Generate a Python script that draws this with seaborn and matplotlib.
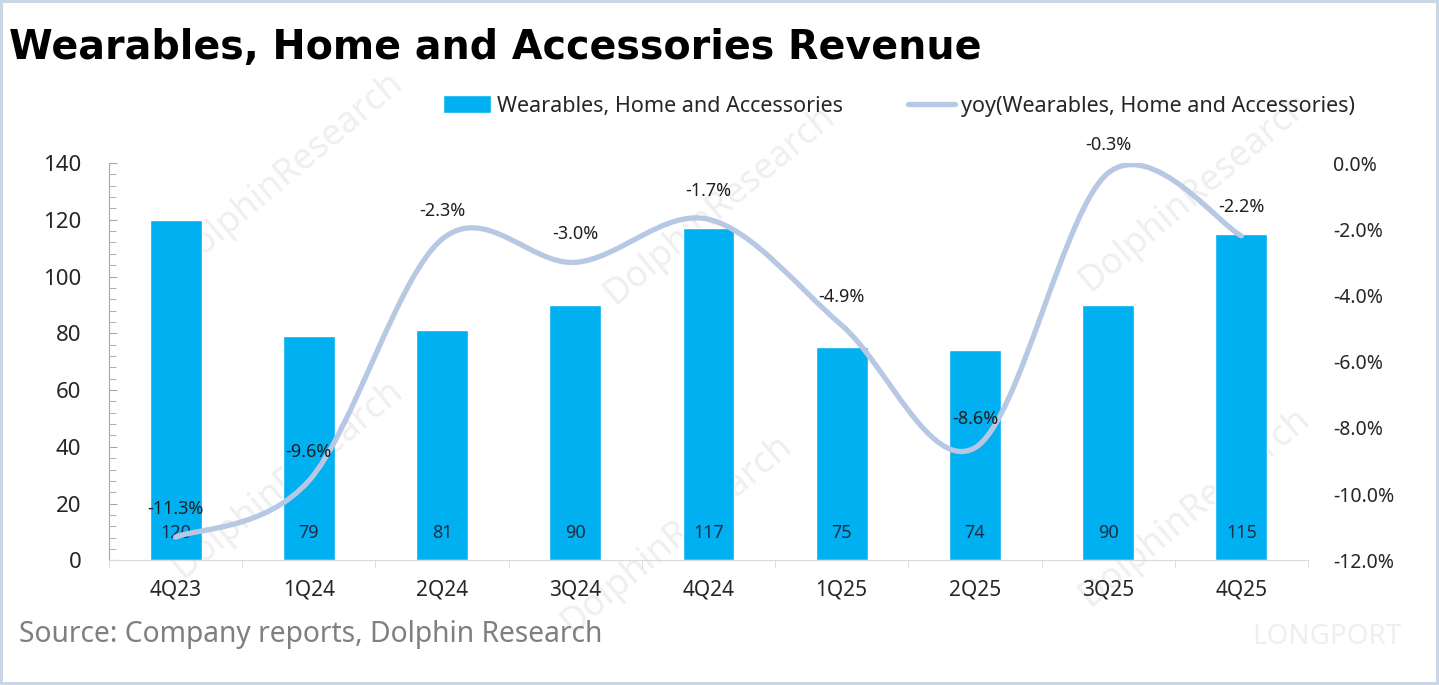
import numpy as np
import pandas as pd
import matplotlib.pyplot as plt
from matplotlib.path import Path
from matplotlib.patches import PathPatch, Patch
from matplotlib.lines import Line2D
from matplotlib.ticker import FuncFormatter, MultipleLocator
import seaborn as sns

# ── data ─────────────────────────────────────────────
quarters = ["4Q23", "1Q24", "2Q24", "3Q24", "4Q24", "1Q25", "2Q25", "3Q25", "4Q25"]
revenue = [120, 79, 81, 90, 117, 75, 74, 90, 115]
yoy_pct = [-11.3, -9.6, -2.3, -3.0, -1.7, -4.9, -8.6, -0.3, -2.2]

bar_color = "#00B0F0"
line_color = "#B7C8E4"
df = pd.DataFrame({"Quarter": quarters, "Revenue": revenue, "YoY": yoy_pct})

sns.set_style("white")
plt.rcParams["font.family"] = ["Noto Sans", "DejaVu Sans"]

fig = plt.figure(figsize=(14.39, 6.85), dpi=100)
fig.patch.set_edgecolor("#C9D6E3")
fig.patch.set_linewidth(3)
ax = fig.add_axes([0.0757, 0.182, 0.8333, 0.580])
ax.patch.set_alpha(0)

sns.barplot(data=df, x="Quarter", y="Revenue", color=bar_color, width=0.39,
            saturation=1, ax=ax, zorder=2)
ax.set_xlim(-0.5, len(quarters) - 0.5)
ax.set_ylim(0, 140)
ax.yaxis.set_major_locator(MultipleLocator(20))
ax.yaxis.set_minor_locator(MultipleLocator(4))
ax.set_xlabel("")
ax.set_ylabel("")
for s in ["top", "right"]:
    ax.spines[s].set_visible(False)
ax.spines["left"].set_color("#A6A6A6")
ax.spines["bottom"].set_color("#D9D9D9")
ax.tick_params(axis="y", which="both", left=True, direction="in", color="#A6A6A6",
               labelsize=16, labelcolor="#262626", pad=20)
ax.tick_params(axis="y", which="major", length=6)
ax.tick_params(axis="y", which="minor", length=5)
ax.tick_params(axis="x", length=0, labelsize=15, labelcolor="#262626", pad=14)
# category separator ticks like excel
ax.set_xticks(np.arange(len(quarters) + 1) - 0.5, minor=True)
ax.tick_params(axis="x", which="minor", bottom=True, length=6, color="#D9D9D9")

for i, v in enumerate(revenue):
    ax.text(i, 9.5, f"{v}", ha="center", va="center", fontsize=13, color="#1F2D45", zorder=5)

# ── yoy line on twin axis (smoothed bezier through points) ──
ax2 = ax.twinx()
ax2.patch.set_alpha(0)
ax2.set_ylim(-12, 0)
ax2.yaxis.set_major_locator(MultipleLocator(2))
ax2.yaxis.set_major_formatter(FuncFormatter(lambda v, p: f"{v:.1f}%"))
for s in ax2.spines.values():
    s.set_visible(False)
ax2.tick_params(axis="y", length=0, labelsize=14, labelcolor="#262626", pad=18)

xs = np.arange(len(quarters), dtype=float)
ys = np.array(yoy_pct)
verts = [(xs[0], ys[0])]
codes = [Path.MOVETO]
t = 1 / 6
for i in range(len(xs) - 1):
    x0, y0 = (xs[i - 1], ys[i - 1]) if i > 0 else (xs[i], ys[i])
    x3, y3 = (xs[i + 2], ys[i + 2]) if i + 2 < len(xs) else (xs[i + 1], ys[i + 1])
    c1 = (xs[i] + (xs[i + 1] - x0) * t, ys[i] + (ys[i + 1] - y0) * t)
    c2 = (xs[i + 1] - (x3 - xs[i]) * t, ys[i + 1] - (y3 - ys[i]) * t)
    verts += [c1, c2, (xs[i + 1], ys[i + 1])]
    codes += [Path.CURVE4] * 3
ax2.add_patch(PathPatch(Path(verts, codes), facecolor="none", edgecolor=line_color,
                        lw=3.8, capstyle="round", zorder=3))
for x, y in zip(xs, ys):
    ax2.annotate(f"{y:.1f}%", (x, y), xytext=(0, 14), textcoords="offset points",
                 ha="center", va="bottom", fontsize=13, color="#1F1F1F")

# ── legend ──
handles = [Patch(facecolor=bar_color, label="Wearables, Home and Accessories"),
           Line2D([0], [0], color=line_color, lw=3.8,
                  label="yoy(Wearables, Home and Accessories)")]
fig.legend(handles=handles, loc="center", bbox_to_anchor=(0.625, 0.845), ncol=2,
           frameon=False, fontsize=15.5, handlelength=2.2, handleheight=0.9,
           columnspacing=3.0, handletextpad=0.3)

# ── watermarks (behind the plot) ──
for (wx, wy) in [(0.20, 0.75), (0.20, 0.30), (0.50, 0.70), (0.47, 0.22),
                 (0.83, 0.72), (0.83, 0.26)]:
    fig.text(wx, wy, "DolphinResearch", rotation=40, fontsize=26, color="#EFEFEF",
             ha="center", va="center", zorder=-1)
fig.text(0.87, 0.07, "LONGPORT", fontsize=20, color="#EFEFEF", ha="left", va="center",
         zorder=-1)

fig.text(0.006, 0.93, "Wearables, Home and Accessories Revenue", fontsize=28.5,
         fontweight="bold", color="black", ha="left", va="center",
         family="DejaVu Sans")
fig.text(0.013, 0.073, "Source: Company reports, Dolphin Research", fontsize=20.3,
         color="#7F7F7F", ha="left", va="center")

fig.savefig("out.png", dpi=100, edgecolor=fig.get_edgecolor())
